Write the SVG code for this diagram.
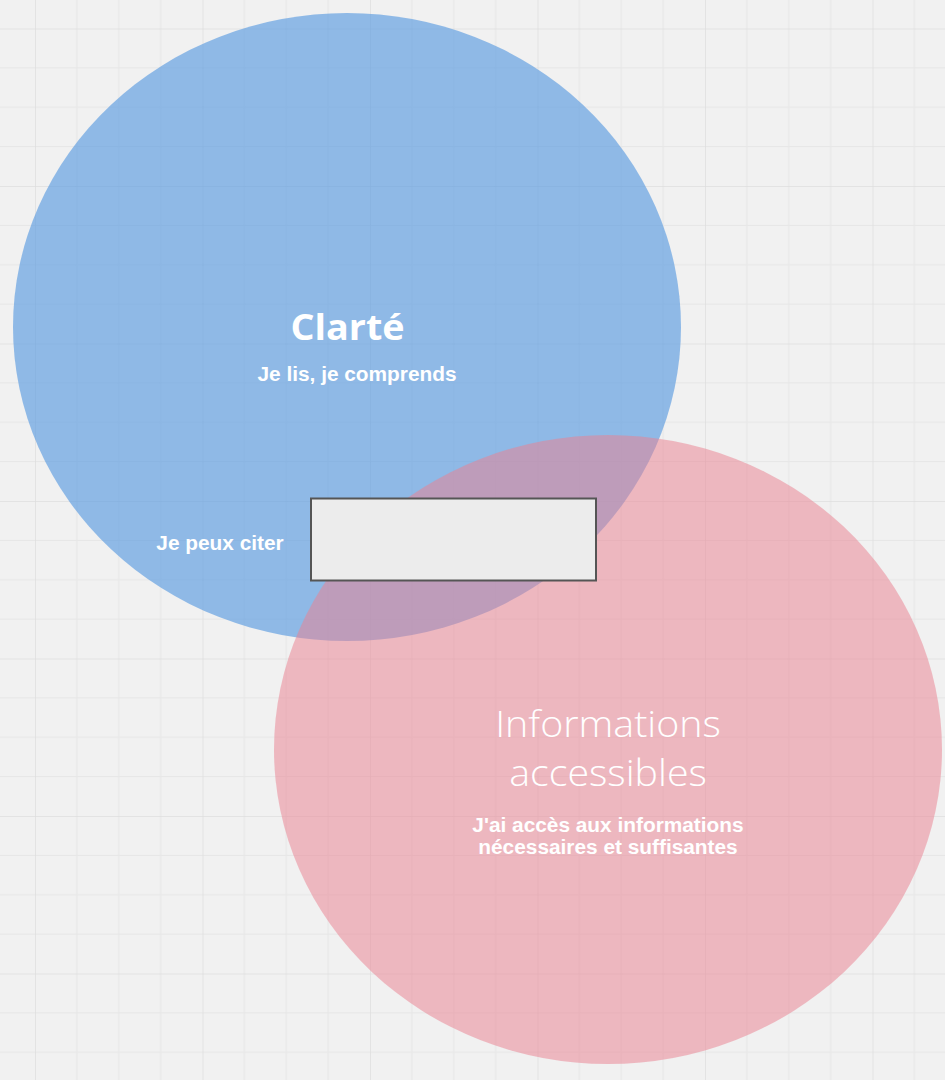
<svg xmlns="http://www.w3.org/2000/svg" width="945" height="1080" viewBox="0 0 945 1080">
<defs>
<pattern id="grid" x="35" y="28.5" width="167.5" height="157.5" patternUnits="userSpaceOnUse">
<g stroke="#e6e6e6" stroke-width="1">
<line x1="41.875" y1="0" x2="41.875" y2="157.5"/>
<line x1="83.75" y1="0" x2="83.75" y2="157.5"/>
<line x1="125.625" y1="0" x2="125.625" y2="157.5"/>
<line x1="0" y1="39.375" x2="167.5" y2="39.375"/>
<line x1="0" y1="78.75" x2="167.5" y2="78.75"/>
<line x1="0" y1="118.125" x2="167.5" y2="118.125"/>
</g>
<g stroke="#dedede" stroke-width="1.5">
<line x1="0" y1="0" x2="0" y2="157.5"/>
<line x1="0" y1="0" x2="167.5" y2="0"/>
</g>
</pattern>
<style>
.w{fill:#ffffff;font-family:"Liberation Sans",Arial,sans-serif;font-weight:bold;text-anchor:middle;font-size:19.6px}
.os{fill:#ffffff;font-family:"Open Sans","Noto Sans",sans-serif;text-anchor:middle}
</style>
</defs>
<rect width="945" height="1080" fill="#f1f1f1"/>
<rect width="945" height="1080" fill="url(#grid)"/>
<g id="clarte">
<ellipse cx="347" cy="327" rx="334" ry="314" fill="#4e94df" fill-opacity="0.6"/>
<text class="os" transform="matrix(1.0635 0 0 1 347.5 0)" x="0" y="340.5" font-size="35.5" font-weight="bold">Clarté</text>
<text class="w" transform="matrix(1.0635 0 0 1 357 0)" x="0" y="381">Je lis, je comprends</text>
</g>
<g id="informations">
<ellipse cx="608" cy="749.5" rx="334" ry="314.5" fill="#e98391" fill-opacity="0.52"/>
<text class="os" transform="matrix(1.0635 0 0 1 608 0)" x="0" y="737" font-size="37" font-weight="300">Informations</text>
<text class="os" transform="matrix(1.0635 0 0 1 608 0)" x="0" y="786" font-size="37" font-weight="300">accessibles</text>
<text class="w" transform="matrix(1.0635 0 0 1 608 0)" x="0" y="832">J'ai accès aux informations</text>
<text class="w" transform="matrix(1.0635 0 0 1 608 0)" x="0" y="854">nécessaires et suffisantes</text>
</g>
<g id="citer">
<text class="w" transform="matrix(1.0635 0 0 1 220 0)" x="0" y="550">Je peux citer</text>
<rect x="311" y="498.5" width="285" height="82" fill="#ececec" stroke="#555555" stroke-width="2"/>
</g>
<g id="connectors"/>
</svg>
